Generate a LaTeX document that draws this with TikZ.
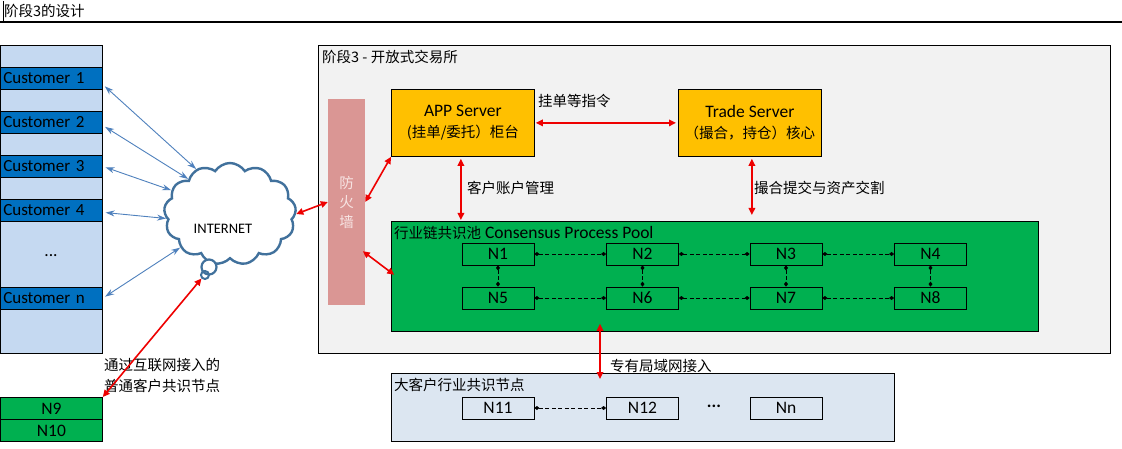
\documentclass[tikz,border=0pt]{standalone}
\usepackage{fontspec}
\setmainfont{Carlito}
\newfontfamily\cjk{Noto Sans CJK SC}
\usetikzlibrary{shapes.symbols,arrows.meta}
\newcommand\zh[1]{{\cjk\fontsize{14.5}{21}\selectfont #1}}
\definecolor{custlight}{HTML}{C5D9F1}
\definecolor{custdark}{HTML}{0070C0}
\definecolor{cloudcol}{HTML}{41719C}
\definecolor{blueline}{HTML}{4F81BD}
\definecolor{stagebg}{HTML}{F2F2F2}
\definecolor{fwcol}{HTML}{DA9694}
\definecolor{fwtext}{HTML}{F7E4E3}
\definecolor{orangebox}{HTML}{FFC000}
\definecolor{poolgreen}{HTML}{00B050}
\definecolor{bigbg}{HTML}{DCE6F1}
\definecolor{redline}{HTML}{EE0000}
\tikzset{
  cust/.style={draw=black, line width=0.6pt, fill=custdark, minimum width=102pt, minimum height=22pt, inner sep=0pt, text width=96pt, align=left, anchor=north west, font=\fontsize{17}{21}\selectfont},
  server/.style={draw=black, line width=0.8pt, fill=orangebox, minimum width=143pt, minimum height=67pt, anchor=north west, align=center, inner sep=0pt},
  nbox/.style={draw=black, line width=0.8pt, minimum width=72pt, minimum height=22pt, inner sep=0pt},
  gbox/.style={draw=black, line width=0.8pt, fill=poolgreen, minimum width=102pt, minimum height=22pt, inner sep=0pt, anchor=north west},
  lbl/.style={anchor=west, inner sep=0pt},
  redarr/.style={draw=redline, line width=1.6pt, {Triangle[length=7pt,width=6.5pt]}-{Triangle[length=7pt,width=6.5pt]}},
  bluearr/.style={draw=blueline, line width=0.9pt, {Stealth[length=9pt,width=6pt]}-{Stealth[length=9pt,width=6pt]}},
  dashlink/.style={draw=black, line width=0.7pt, dash pattern=on 4pt off 2.5pt, {Diamond[length=5pt,width=4pt]}-{Diamond[length=5pt,width=4pt]}},
}
\begin{document}
\begin{tikzpicture}[x=1pt,y=-1pt, font=\fontsize{17.5}{21}\selectfont]
\useasboundingbox (0,0) rectangle (1122,449);
\fill[white] (0,0) rectangle (1122,449);

% title
\node[lbl] (title) at (4,11) {\zh{阶段3的设计}};
\draw[line width=0.6pt] (3,1) -- (3,21);
\draw[line width=2.2pt] (0,22) -- (1122,22);

% customers
\node[draw=black, line width=0.6pt, fill=custlight, minimum width=102pt, minimum height=308pt, anchor=north west, inner sep=0pt] (custcol) at (0,45) {};
\node[cust] (c1) at (0,67) {Customer 1};
\node[cust] (c2) at (0,111) {Customer 2};
\node[cust] (c3) at (0,155) {Customer 3};
\node[cust] (c4) at (0,199) {Customer 4};
\node (cdots) at (51,256) {...};
\node[cust] (cn) at (0,287) {Customer n};

% cloud
\node[cloud, cloud puffs=13, cloud puff arc=115, aspect=1.3, draw=cloudcol, line width=2.4pt, fill=white, minimum width=132pt, minimum height=102pt, inner sep=0pt] (inet) at (230,214) {};
\node[font=\fontsize{14.5}{17}\selectfont] (inettext) at (223,229) {INTERNET};
\node[circle, draw=cloudcol, line width=2.2pt, fill=white, minimum size=15pt, inner sep=0pt] (b1) at (209,267) {};
\node[circle, draw=cloudcol, line width=2pt, minimum size=8pt, inner sep=0pt] (b2) at (205,275) {};

\draw[bluearr, shorten <=3pt] ([yshift=-6pt]c1.east) -- (inet.127);
\draw[bluearr, shorten <=3pt] ([yshift=-3pt]c2.east) -- (inet.140);
\draw[bluearr, shorten <=3pt] (c3.east) -- (inet.158);
\draw[bluearr, shorten <=3pt] ([yshift=-2pt]c4.east) -- (inet.184);
\draw[bluearr, shorten <=3pt] (cn.east) -- (inet.214);

% N9 / N10
\node[gbox] (n9) at (0,397) {N9};
\node[gbox] (n10) at (0,419) {N10};
\node[anchor=west, align=left, inner sep=0pt] (n9lbl) at (104,376) {\zh{通过互联网接入的}\\\zh{普通客户共识节点}};
\draw[redarr] (b2.225) -- (n9.north east);

% stage 3 box
\node[draw=black, line width=0.8pt, fill=stagebg, minimum width=792pt, minimum height=308pt, anchor=north west, inner sep=0pt] (stage) at (318,45) {};
\node[lbl] (stagetitle) at (322,57) {\zh{阶段3 - 开放式交易所}};

% firewall
\node[fill=fwcol, minimum width=37pt, minimum height=206pt, inner sep=0pt, align=center, text=fwtext, font=\cjk\fontsize{14.5}{19.5}\selectfont] (fw) at (346.5,202) {防\\火\\墙};

% servers
\node[server] (app) at (391,89) {APP Server\\\zh{(挂单/委托）柜台}};
\node[server] (trade) at (678,89) {Trade Server\\\zh{（撮合，持仓）核心}};

% pool
\node[draw=black, line width=0.8pt, fill=poolgreen, minimum width=647pt, minimum height=110pt, anchor=north west, inner sep=0pt] (pool) at (391,221) {};
\node[lbl] (pooltitle) at (394,233) {\zh{行业链共识池} Consensus Process Pool};
\node[nbox] (N1) at (498,254) {N1};
\node[nbox] (N2) at (642.5,254) {N2};
\node[nbox] (N3) at (786,254) {N3};
\node[nbox] (N4) at (930.5,254) {N4};
\node[nbox] (N5) at (498,298) {N5};
\node[nbox] (N6) at (642.5,298) {N6};
\node[nbox] (N7) at (786,298) {N7};
\node[nbox] (N8) at (930.5,298) {N8};
\draw[dashlink] (N1) -- (N2);
\draw[dashlink] (N2) -- (N3);
\draw[dashlink] (N3) -- (N4);
\draw[dashlink] (N5) -- (N6);
\draw[dashlink] (N6) -- (N7);
\draw[dashlink] (N7) -- (N8);
\draw[dashlink] (N1) -- (N5);
\draw[dashlink] (N2) -- (N6);
\draw[dashlink] (N3) -- (N7);
\draw[dashlink] (N4) -- (N8);

% big customer box
\node[draw=black, line width=0.8pt, fill=bigbg, minimum width=503pt, minimum height=68pt, anchor=north west, inner sep=0pt] (bigc) at (391,373) {};
\node[lbl] (bigtitle) at (394,385) {\zh{大客户行业共识节点}};
\node[nbox] (N11) at (498,408) {N11};
\node[nbox] (N12) at (642.5,408) {N12};
\node (ndots) at (714,406) {\textbf{...}};
\node[nbox] (Nn) at (786,408) {Nn};
\draw[dashlink] (N11) -- (N12);

% red connectors
\draw[redarr] (inet.east) -- (fw.west);
\draw[redarr] (fw.east) -- (app.south west);
\draw[redarr, shorten <=-3pt, shorten >=-4pt] ([yshift=-51pt]fw.east) -- ([yshift=4pt]pool.west);
\draw[redarr, shorten <=1pt, shorten >=2pt] (app.east) -- (trade.west);
\draw[redarr, shorten <=2pt, shorten >=1pt] ([xshift=-2pt]app.south) -- ([xshift=-2pt]app.south |- pool.north);
\draw[redarr, shorten <=2pt, shorten >=6pt] ([xshift=2pt]trade.south) -- ([xshift=2pt]trade.south |- pool.north);
\draw[redarr, shorten <=-8pt, shorten >=-6pt] ([xshift=209pt]pool.south west) -- ([xshift=209pt]bigc.north west);

% labels
\node[lbl] (lbl1) at (538,101) {\zh{挂单等指令}};
\node[lbl] (lbl2) at (467,188) {\zh{客户账户管理}};
\node[lbl] (lbl3) at (754,188) {\zh{撮合提交与资产交割}};
\node[lbl] (lbl4) at (610,366) {\zh{专有局域网接入}};
\end{tikzpicture}
\end{document}
